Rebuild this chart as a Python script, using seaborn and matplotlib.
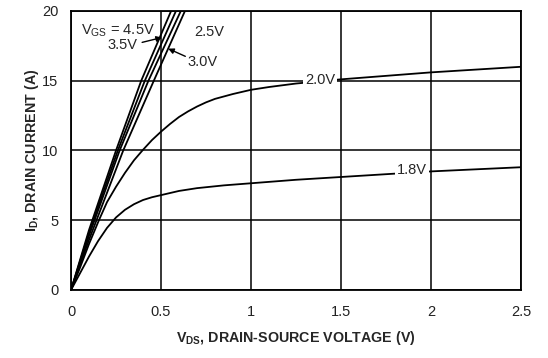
import matplotlib
matplotlib.use('Agg')
import matplotlib.pyplot as plt
import numpy as np
import pandas as pd
import seaborn as sns
from matplotlib.ticker import MultipleLocator

# V_DS (V) / I_D (A), one pair of lists per gate voltage
vds_45 = [0, 0.10, 0.25, 0.39, 0.556, 0.62]
id_45 = [0, 4.3, 10.0, 15.0, 20.0, 21.8]
vds_35 = [0, 0.10, 0.26, 0.41, 0.583, 0.65]
id_35 = [0, 4.1, 10.0, 15.0, 20.0, 21.8]
vds_30 = [0, 0.10, 0.27, 0.43, 0.61, 0.68]
id_30 = [0, 3.9, 10.0, 15.0, 20.0, 21.8]
vds_25 = [0, 0.10, 0.29, 0.46, 0.633, 0.70]
id_25 = [0, 3.6, 10.0, 15.0, 20.0, 21.8]
vds_20 = [0, 0.05, 0.10, 0.155, 0.20, 0.25, 0.30, 0.35, 0.40, 0.45, 0.50, 0.55,
          0.60, 0.65, 0.70, 0.75, 0.80, 0.90, 1.0, 1.1, 1.25, 1.5, 1.75, 2.0,
          2.25, 2.5]
id_20 = [0, 1.6, 3.3, 5.0, 6.3, 7.4, 8.4, 9.3, 10.05, 10.75, 11.35, 11.9,
         12.4, 12.8, 13.15, 13.45, 13.7, 14.05, 14.35, 14.55, 14.8, 15.1, 15.35,
         15.6, 15.8, 16.0]
vds_18 = [0, 0.05, 0.10, 0.15, 0.20, 0.25, 0.30, 0.35, 0.40, 0.45, 0.50, 0.60,
          0.70, 0.85, 1.0, 1.25, 1.5, 1.75, 2.0, 2.25, 2.5]
id_18 = [0, 1.2, 2.4, 3.5, 4.45, 5.2, 5.75, 6.15, 6.45, 6.65, 6.8, 7.1,
         7.3, 7.5, 7.65, 7.9, 8.1, 8.3, 8.5, 8.65, 8.8]

vgs_labels = ['4.5V', '3.5V', '3.0V', '2.5V', '2.0V', '1.8V']

frames = []
for lab, x, y in zip(vgs_labels,
                     [vds_45, vds_35, vds_30, vds_25, vds_20, vds_18],
                     [id_45, id_35, id_30, id_25, id_20, id_18]):
    frames.append(pd.DataFrame({'vds': x, 'id': y, 'vgs': lab}))
df = pd.concat(frames, ignore_index=True)

sns.set_style('white')
plt.rcParams['font.family'] = ['Liberation Sans', 'DejaVu Sans']
plt.rcParams['mathtext.fontset'] = 'custom'
plt.rcParams['mathtext.rm'] = 'Liberation Sans'
plt.rcParams['mathtext.bf'] = 'Liberation Sans:bold'

fig = plt.figure(figsize=(5.48, 3.58), dpi=100)
ax = fig.add_axes([0.1296, 0.19, 0.8211, 0.7793])

sns.lineplot(data=df, x='vds', y='id', hue='vgs', units='vgs', estimator=None,
             sort=False, palette=['black'] * 6, linewidth=1.3, legend=False, ax=ax)

ax.set_xlim(0, 2.5)
ax.set_ylim(0, 20)
ax.xaxis.set_major_locator(MultipleLocator(0.5))
ax.xaxis.set_minor_locator(MultipleLocator(0.25))
ax.yaxis.set_major_locator(MultipleLocator(5))
ax.yaxis.set_minor_locator(MultipleLocator(2.5))
ax.set_xticks([0, 0.5, 1, 1.5, 2, 2.5])
ax.set_xticklabels(['0', '0.5', '1', '1.5', '2', '2.5'])
ax.grid(True, which='major', color='black', linewidth=1.1)
ax.tick_params(which='major', length=0, labelsize=10.5, colors='#222222')
ax.tick_params(axis='x', which='major', pad=11)
ax.tick_params(axis='y', which='major', pad=9)
ax.tick_params(which='minor', direction='in', length=5, width=1, color='black')
for s in ax.spines.values():
    s.set_color('black')
    s.set_linewidth(1.3)

ax.set_xlabel(r'$\mathbf{V}_{\mathbf{DS}}$, DRAIN-SOURCE VOLTAGE (V)',
              fontsize=10.3, fontweight='bold', labelpad=7)
ax.set_ylabel(r'$\mathbf{I}_{\mathbf{D}}$, DRAIN CURRENT (A)',
              fontsize=10.3, fontweight='bold', labelpad=1)

fs = 10.5
arrow = dict(arrowstyle='-|>', color='black', lw=1.0, mutation_scale=8,
             shrinkA=0, shrinkB=0)
ax.text(0.056, 18.6, r'V$_{\mathrm{GS}}$ = 4.5V', fontsize=fs, va='center', ha='left')
ax.text(0.285, 17.55, '3.5V', fontsize=fs, ha='center', va='center')
ax.annotate('', xy=(0.505, 18.1), xytext=(0.395, 17.75), arrowprops=arrow, zorder=5)
ax.text(0.767, 18.5, '2.5V', fontsize=fs, ha='center', va='center')
ax.text(0.73, 16.35, '3.0V', fontsize=fs, ha='center', va='center')
ax.annotate('', xy=(0.54, 17.3), xytext=(0.635, 16.75), arrowprops=arrow, zorder=5)
ax.text(1.383, 15.05, '2.0V', fontsize=fs, ha='center', va='center',
        bbox=dict(facecolor='white', edgecolor='none', pad=1.5))
ax.text(1.894, 8.6, '1.8V', fontsize=fs, ha='center', va='center',
        bbox=dict(facecolor='white', edgecolor='none', pad=1.5))

fig.savefig('out.png', dpi=100)
